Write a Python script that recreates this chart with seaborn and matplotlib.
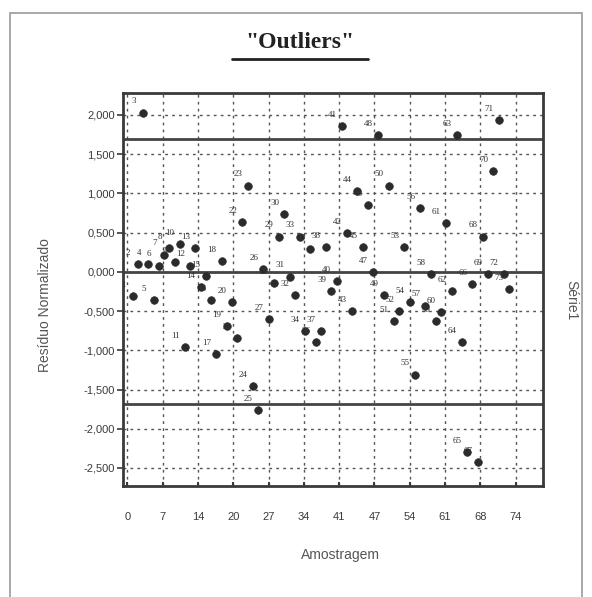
import numpy as np
import pandas as pd
import matplotlib
matplotlib.use("Agg")
import matplotlib.pyplot as plt
import seaborn as sns
from matplotlib.patches import Rectangle
from matplotlib.lines import Line2D

# ---- data ----
amostra = list(range(1, 74))
residuo = [
    -0.31, 0.10, 2.03, 0.10, -0.36, 0.08, 0.22, 0.30, 0.13, 0.35,
    -0.96, 0.08, 0.30, -0.19, -0.05, -0.36, -1.05, 0.14, -0.69, -0.38,
    -0.84, 0.64, 1.10, -1.46, -1.76, 0.04, -0.60, -0.14, 0.45, 0.74,
    -0.06, -0.30, 0.45, -0.76, 0.29, -0.90, -0.76, 0.32, -0.24, -0.12,
    1.86, 0.50, -0.50, 1.03, 0.32, 0.85, 0.00, 1.74, -0.30, 1.10,
    -0.63, -0.50, 0.32, -0.39, -1.31, 0.81, -0.43, -0.03, -0.63, -0.51,
    0.62, -0.25, 1.74, -0.90, -2.30, -0.15, -2.42, 0.45, -0.03, 1.28,
    1.94, -0.03, -0.22,
]
limites = [1.69, 0.0, -1.69]
xticks = [0, 6.75, 13.5, 20.25, 27, 33.75, 40.5, 47.25, 54, 60.75, 67.5, 74.25]
xticklabels = ["0", "7", "14", "20", "27", "34", "41", "47", "54", "61", "68", "74"]
yticks = [2.0, 1.5, 1.0, 0.5, 0.0, -0.5, -1.0, -1.5, -2.0, -2.5]
yticklabels = ["2,000", "1,500", "1,000", "0,500", "0,000", "-0,500",
               "-1,000", "-1,500", "-2,000", "-2,500"]

df = pd.DataFrame({"Amostragem": amostra, "Residuo": residuo})

sns.set_style("white")
plt.rcParams["font.family"] = ["Liberation Sans", "DejaVu Sans"]

fig = plt.figure(figsize=(5.92, 5.97), dpi=100)
fig.patch.set_facecolor("white")

# outer frame of the picture
fig.patches.append(Rectangle((10 / 592, -0.02), 572 / 592, 1 - 13 / 597 + 0.02,
                             transform=fig.transFigure, fill=False,
                             edgecolor="#9a9a9a", linewidth=1.2))

ax = fig.add_axes([123 / 592, 1 - 486 / 597, 420 / 592, 393 / 597])

# grid
ax.set_xticks(xticks)
ax.set_xticklabels(xticklabels)
ax.set_yticks(yticks)
ax.set_yticklabels(yticklabels)
ax.grid(True, color="#555555", linestyle=(0, (2, 3)), linewidth=1.0)
ax.set_axisbelow(True)

for yv in limites:
    ax.axhline(yv, color="#444444", linewidth=2.0, zorder=2)

sns.scatterplot(data=df, x="Amostragem", y="Residuo", ax=ax, s=30,
                color="#2b2b2b", edgecolor="#2b2b2b", linewidth=0.5, zorder=3,
                legend=False)

for xv, yv in zip(amostra, residuo):
    ax.annotate(str(xv), (xv, yv), textcoords="offset points", xytext=(-7, 8),
                ha="center", va="center", fontsize=6.5, color="#333333",
                family=["Liberation Serif", "DejaVu Serif"], zorder=4)

ax.set_xlim(-0.86, 79.5)
ax.set_ylim(-2.73, 2.28)

for side in ["top", "bottom", "left", "right"]:
    ax.spines[side].set_visible(True)
    ax.spines[side].set_color("#3a3a3a")
    ax.spines[side].set_linewidth(2.0)

ax.tick_params(axis="x", bottom=True, length=3, width=1.5, direction="in",
               color="#3a3a3a", pad=19, labelsize=8, labelcolor="#3a3a3a")
ax.tick_params(axis="y", length=4, width=1.2, color="#3a3a3a", pad=2,
               labelsize=8, labelcolor="#3a3a3a", left=True, direction="out")
ax.set_xlabel("")
ax.set_ylabel("")

# titles and labels
fig.text(300 / 592, 1 - 43 / 597, '"Outliers"', ha="center", va="center",
         fontsize=17, fontweight="bold", color="#222222",
         family=["Liberation Serif", "DejaVu Serif"])
fig.lines.append(Line2D([232 / 592, 368 / 592], [1 - 59 / 597, 1 - 59 / 597],
                        transform=fig.transFigure, color="#222222", linewidth=2))

fig.text(45 / 592, 1 - 305 / 597, "Resíduo Normalizado", rotation=90,
         ha="center", va="center", fontsize=10, color="#555555")
fig.text(340 / 592, 1 - 555 / 597, "Amostragem", ha="center", va="center",
         fontsize=10, color="#555555")
fig.text(571 / 592, 1 - 300 / 597, "Série1", rotation=270,
         ha="center", va="center", fontsize=10, color="#555555")

fig.savefig("out.png", dpi=100, facecolor="white")
